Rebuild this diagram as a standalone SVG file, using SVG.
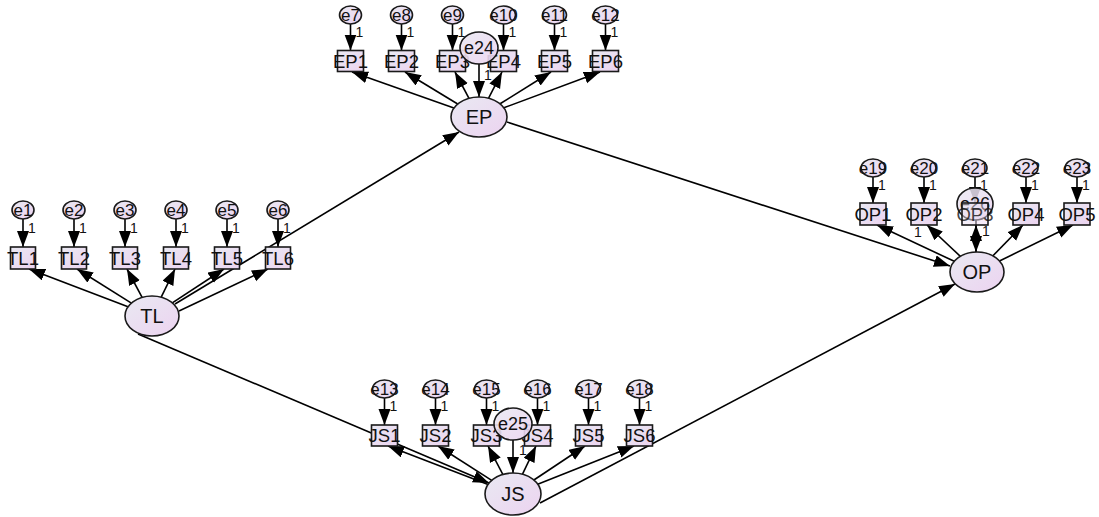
<svg xmlns="http://www.w3.org/2000/svg" width="1099" height="517" viewBox="0 0 1099 517">
<defs>
<linearGradient id="g" x1="0" y1="0" x2="1" y2="1">
<stop offset="0" stop-color="#e9e9f2"/>
<stop offset="1" stop-color="#ecd3f0"/>
</linearGradient>
<marker id="ah" markerUnits="userSpaceOnUse" markerWidth="17" markerHeight="13" refX="16" refY="6" orient="auto">
<path d="M0,0 L16,6 L0,12 z" fill="#000"/>
</marker>
<style>
.n{fill:url(#g);stroke:#1a1a1a;stroke-width:1.6}
.c{stroke:#000;stroke-width:1.6;fill:none;marker-end:url(#ah)}
text{font-family:"Liberation Sans",Arial,sans-serif;fill:#111;text-anchor:middle}
.lt{font-size:20px}
.bt{font-size:18.5px}
.et{font-size:17px}
.dt{font-size:18px}
.one{font-size:14px;text-anchor:start}
.onem{font-size:14px}
</style>
</defs>
<rect width="1099" height="517" fill="#fff"/>
<g id="connectors">
<line class="c" x1="23" y1="219" x2="23" y2="247"/>
<line class="c" x1="74" y1="219" x2="74" y2="247"/>
<line class="c" x1="125" y1="219" x2="125" y2="247"/>
<line class="c" x1="176" y1="219" x2="176" y2="247"/>
<line class="c" x1="227" y1="219" x2="227" y2="247"/>
<line class="c" x1="278" y1="219" x2="278" y2="247"/>
<line class="c" x1="350.5" y1="24" x2="350.5" y2="50.5"/>
<line class="c" x1="401.5" y1="24" x2="401.5" y2="50.5"/>
<line class="c" x1="452.5" y1="24" x2="452.5" y2="50.5"/>
<line class="c" x1="503.5" y1="24" x2="503.5" y2="50.5"/>
<line class="c" x1="554.5" y1="24" x2="554.5" y2="50.5"/>
<line class="c" x1="605.5" y1="24" x2="605.5" y2="50.5"/>
<line class="c" x1="873" y1="177" x2="873" y2="203"/>
<line class="c" x1="924" y1="177" x2="924" y2="203"/>
<line class="c" x1="975" y1="177" x2="975" y2="203"/>
<line class="c" x1="1026" y1="177" x2="1026" y2="203"/>
<line class="c" x1="1077" y1="177" x2="1077" y2="203"/>
<line class="c" x1="384.5" y1="398" x2="384.5" y2="425"/>
<line class="c" x1="435.5" y1="398" x2="435.5" y2="425"/>
<line class="c" x1="486.5" y1="398" x2="486.5" y2="425"/>
<line class="c" x1="537.5" y1="398" x2="537.5" y2="425"/>
<line class="c" x1="588.5" y1="398" x2="588.5" y2="425"/>
<line class="c" x1="639.5" y1="398" x2="639.5" y2="425"/>
<line class="c" x1="128" y1="306.8" x2="29" y2="269"/>
<line class="c" x1="131.4" y1="303.1" x2="77" y2="269"/>
<line class="c" x1="142.1" y1="297.4" x2="127" y2="269"/>
<line class="c" x1="161.2" y1="297.2" x2="175" y2="269"/>
<line class="c" x1="172.3" y1="302.8" x2="224" y2="269"/>
<line class="c" x1="179" y1="311" x2="268" y2="269"/>
<line class="c" x1="453.9" y1="108.1" x2="352" y2="72"/>
<line class="c" x1="457.7" y1="104" x2="405" y2="72"/>
<line class="c" x1="469" y1="98.3" x2="455" y2="72"/>
<line class="c" x1="488.6" y1="98.2" x2="502" y2="72"/>
<line class="c" x1="500.1" y1="103.8" x2="551" y2="72"/>
<line class="c" x1="503.8" y1="107.8" x2="600" y2="72"/>
<line class="c" x1="954.2" y1="261.3" x2="877" y2="225"/>
<line class="c" x1="960.3" y1="256.3" x2="927" y2="225"/>
<line class="c" x1="976" y1="252" x2="976" y2="225"/>
<line class="c" x1="992.9" y1="255.8" x2="1023" y2="225"/>
<line class="c" x1="999.5" y1="261" x2="1073" y2="225"/>
<line class="c" x1="488.1" y1="484.4" x2="388" y2="446"/>
<line class="c" x1="491.7" y1="480.4" x2="438" y2="446"/>
<line class="c" x1="502.8" y1="474.4" x2="488" y2="446"/>
<line class="c" x1="522.5" y1="474.2" x2="536" y2="446"/>
<line class="c" x1="533.9" y1="480" x2="585" y2="446"/>
<line class="c" x1="537.7" y1="484.2" x2="634" y2="446"/>
<line class="c" x1="479" y1="64" x2="479" y2="97"/>
<line class="c" x1="513" y1="440" x2="513" y2="473"/>
<line class="c" x1="976" y1="220" x2="976" y2="252"/>
<line class="c" x1="175" y1="304" x2="459" y2="132"/>
<line class="c" x1="138" y1="334" x2="489" y2="483"/>
<line class="c" x1="507" y1="122" x2="950" y2="266"/>
<line class="c" x1="540" y1="503" x2="955" y2="284"/>
</g>
<g id="TL1"><rect class="n" x="10.5" y="247" width="25" height="22"/><text class="bt" x="23" y="264.5">TL1</text></g>
<g id="TL2"><rect class="n" x="61.5" y="247" width="25" height="22"/><text class="bt" x="74" y="264.5">TL2</text></g>
<g id="TL3"><rect class="n" x="112.5" y="247" width="25" height="22"/><text class="bt" x="125" y="264.5">TL3</text></g>
<g id="TL4"><rect class="n" x="163.5" y="247" width="25" height="22"/><text class="bt" x="176" y="264.5">TL4</text></g>
<g id="TL5"><rect class="n" x="214.5" y="247" width="25" height="22"/><text class="bt" x="227" y="264.5">TL5</text></g>
<g id="TL6"><rect class="n" x="265.5" y="247" width="25" height="22"/><text class="bt" x="278" y="264.5">TL6</text></g>
<g id="e1"><ellipse class="n" cx="23" cy="210" rx="11" ry="9"/><text class="et" x="23" y="216">e1</text><text class="one" x="28" y="233">1</text></g>
<g id="e2"><ellipse class="n" cx="74" cy="210" rx="11" ry="9"/><text class="et" x="74" y="216">e2</text><text class="one" x="79" y="233">1</text></g>
<g id="e3"><ellipse class="n" cx="125" cy="210" rx="11" ry="9"/><text class="et" x="125" y="216">e3</text><text class="one" x="130" y="233">1</text></g>
<g id="e4"><ellipse class="n" cx="176" cy="210" rx="11" ry="9"/><text class="et" x="176" y="216">e4</text><text class="one" x="181" y="233">1</text></g>
<g id="e5"><ellipse class="n" cx="227" cy="210" rx="11" ry="9"/><text class="et" x="227" y="216">e5</text><text class="one" x="232" y="233">1</text></g>
<g id="e6"><ellipse class="n" cx="278" cy="210" rx="11" ry="9"/><text class="et" x="278" y="216">e6</text><text class="one" x="283" y="233">1</text></g>
<g id="EP1"><rect class="n" x="337.5" y="50.5" width="26" height="21"/><text class="bt" x="350.5" y="67.5">EP1</text></g>
<g id="EP2"><rect class="n" x="388.5" y="50.5" width="26" height="21"/><text class="bt" x="401.5" y="67.5">EP2</text></g>
<g id="EP3"><rect class="n" x="439.5" y="50.5" width="26" height="21"/><text class="bt" x="452.5" y="67.5">EP3</text></g>
<g id="EP4"><rect class="n" x="490.5" y="50.5" width="26" height="21"/><text class="bt" x="503.5" y="67.5">EP4</text></g>
<g id="EP5"><rect class="n" x="541.5" y="50.5" width="26" height="21"/><text class="bt" x="554.5" y="67.5">EP5</text></g>
<g id="EP6"><rect class="n" x="592.5" y="50.5" width="26" height="21"/><text class="bt" x="605.5" y="67.5">EP6</text></g>
<g id="e7"><ellipse class="n" cx="350.5" cy="15" rx="11" ry="9"/><text class="et" x="350.5" y="21">e7</text><text class="one" x="355.5" y="37">1</text></g>
<g id="e8"><ellipse class="n" cx="401.5" cy="15" rx="11" ry="9"/><text class="et" x="401.5" y="21">e8</text><text class="one" x="406.5" y="37">1</text></g>
<g id="e9"><ellipse class="n" cx="452.5" cy="15" rx="11" ry="9"/><text class="et" x="452.5" y="21">e9</text><text class="one" x="457.5" y="37">1</text></g>
<g id="e10"><ellipse class="n" cx="503.5" cy="15" rx="12" ry="9"/><text class="et" x="503.5" y="21">e10</text><text class="one" x="508.5" y="37">1</text></g>
<g id="e11"><ellipse class="n" cx="554.5" cy="15" rx="12" ry="9"/><text class="et" x="554.5" y="21">e11</text><text class="one" x="559.5" y="37">1</text></g>
<g id="e12"><ellipse class="n" cx="605.5" cy="15" rx="12" ry="9"/><text class="et" x="605.5" y="21">e12</text><text class="one" x="610.5" y="37">1</text></g>
<g id="JS1"><rect class="n" x="371.5" y="425" width="26" height="21"/><text class="bt" x="384.5" y="442">JS1</text></g>
<g id="JS2"><rect class="n" x="422.5" y="425" width="26" height="21"/><text class="bt" x="435.5" y="442">JS2</text></g>
<g id="JS3"><rect class="n" x="473.5" y="425" width="26" height="21"/><text class="bt" x="486.5" y="442">JS3</text></g>
<g id="JS4"><rect class="n" x="524.5" y="425" width="26" height="21"/><text class="bt" x="537.5" y="442">JS4</text></g>
<g id="JS5"><rect class="n" x="575.5" y="425" width="26" height="21"/><text class="bt" x="588.5" y="442">JS5</text></g>
<g id="JS6"><rect class="n" x="626.5" y="425" width="26" height="21"/><text class="bt" x="639.5" y="442">JS6</text></g>
<g id="e13"><ellipse class="n" cx="384.5" cy="389" rx="12" ry="9"/><text class="et" x="384.5" y="395">e13</text><text class="one" x="389.5" y="411">1</text></g>
<g id="e14"><ellipse class="n" cx="435.5" cy="389" rx="12" ry="9"/><text class="et" x="435.5" y="395">e14</text><text class="one" x="440.5" y="411">1</text></g>
<g id="e15"><ellipse class="n" cx="486.5" cy="389" rx="12" ry="9"/><text class="et" x="486.5" y="395">e15</text><text class="one" x="491.5" y="411">1</text></g>
<g id="e16"><ellipse class="n" cx="537.5" cy="389" rx="12" ry="9"/><text class="et" x="537.5" y="395">e16</text><text class="one" x="542.5" y="411">1</text></g>
<g id="e17"><ellipse class="n" cx="588.5" cy="389" rx="12" ry="9"/><text class="et" x="588.5" y="395">e17</text><text class="one" x="593.5" y="411">1</text></g>
<g id="e18"><ellipse class="n" cx="639.5" cy="389" rx="12" ry="9"/><text class="et" x="639.5" y="395">e18</text><text class="one" x="644.5" y="411">1</text></g>
<g id="e19"><ellipse class="n" cx="873" cy="168" rx="12" ry="9"/><text class="et" x="873" y="174">e19</text><text class="one" x="878" y="190">1</text></g>
<g id="e20"><ellipse class="n" cx="924" cy="168" rx="12" ry="9"/><text class="et" x="924" y="174">e20</text><text class="one" x="929" y="190">1</text></g>
<g id="e21"><ellipse class="n" cx="975" cy="168" rx="12" ry="9"/><text class="et" x="975" y="174">e21</text><text class="one" x="980" y="190">1</text></g>
<g id="e22"><ellipse class="n" cx="1026" cy="168" rx="12" ry="9"/><text class="et" x="1026" y="174">e22</text><text class="one" x="1031" y="190">1</text></g>
<g id="e23"><ellipse class="n" cx="1077" cy="168" rx="12" ry="9"/><text class="et" x="1077" y="174">e23</text><text class="one" x="1082" y="190">1</text></g>
<g id="OP1"><rect class="n" x="860" y="203" width="26" height="22"/><text class="bt" x="873" y="220.5">OP1</text></g>
<g id="OP2"><rect class="n" x="911" y="203" width="26" height="22"/><text class="bt" x="924" y="220.5">OP2</text><text class="onem" x="918" y="237">1</text></g>
<g id="e26"><ellipse class="n" cx="975" cy="204" rx="18" ry="16" fill-opacity="0.85"/><text class="dt" x="975" y="210">e26</text><text class="onem" x="986" y="236">1</text></g>
<g id="OP3"><rect class="n" x="962" y="203" width="26" height="22" fill-opacity="0.5"/><text class="bt" x="975" y="220.5" fill-opacity="0.8">OP3</text></g>
<g id="OP4"><rect class="n" x="1013" y="203" width="26" height="22"/><text class="bt" x="1026" y="220.5">OP4</text></g>
<g id="OP5"><rect class="n" x="1064" y="203" width="26" height="22"/><text class="bt" x="1077" y="220.5">OP5</text></g>
<g id="TL"><ellipse class="n" cx="152" cy="316" rx="27" ry="20"/><text class="lt" x="152" y="323">TL</text></g>
<g id="EP"><ellipse class="n" cx="479" cy="117" rx="28" ry="20"/><text class="lt" x="479" y="124">EP</text></g>
<g id="OP"><ellipse class="n" cx="977" cy="272" rx="27" ry="20"/><text class="lt" x="977" y="279">OP</text></g>
<g id="JS"><ellipse class="n" cx="513" cy="494" rx="28" ry="21"/><text class="lt" x="513" y="501">JS</text></g>
<g id="e24"><ellipse class="n" cx="479" cy="48" rx="19" ry="16" fill-opacity="0.9"/><text class="dt" x="479" y="54">e24</text><text class="onem" x="488" y="80">1</text></g>
<g id="e25"><ellipse class="n" cx="513" cy="424" rx="19" ry="16" fill-opacity="0.9"/><text class="dt" x="513" y="430">e25</text><text class="onem" x="523" y="455">1</text></g>
</svg>
